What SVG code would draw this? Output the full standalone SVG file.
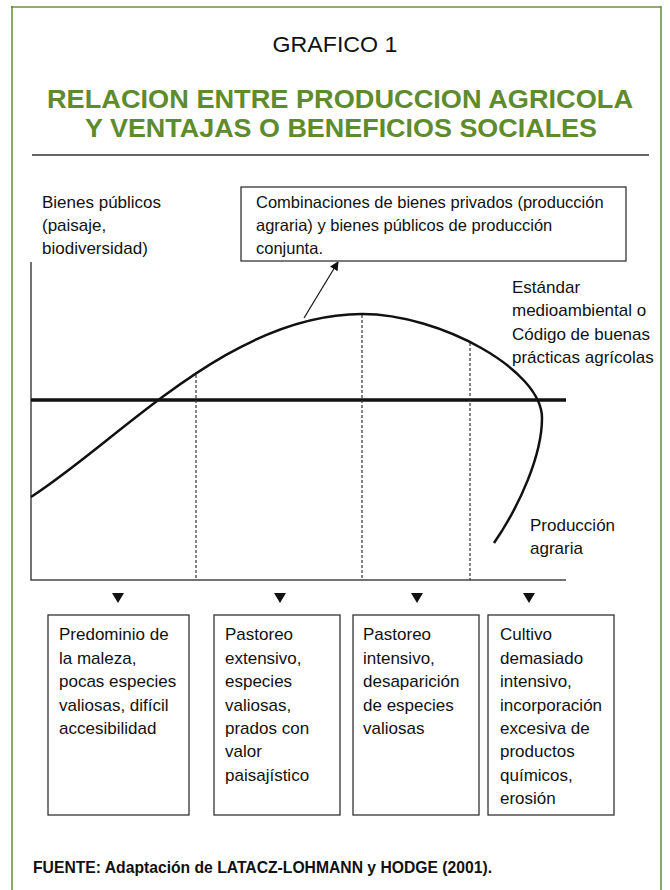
<svg xmlns="http://www.w3.org/2000/svg" width="670" height="890" viewBox="0 0 670 890">
<style>
.t{font-family:"Liberation Sans",Arial,sans-serif;font-size:17px;fill:#111}
.title{font-family:"Liberation Sans",Arial,sans-serif;font-size:26px;font-weight:bold;fill:#5f8b2f}
.box{fill:#fff;stroke:#333;stroke-width:1.3}
.dash{stroke:#333;stroke-width:1.2;stroke-dasharray:3,2;fill:none}
.tri{fill:#111}
</style>
<defs>
<marker id="ah" viewBox="0 0 10 10" refX="9" refY="5" markerWidth="9" markerHeight="9" markerUnits="userSpaceOnUse" orient="auto">
<path d="M0,0 L10,5 L0,10 z" fill="#111"/>
</marker>
</defs>
<rect width="670" height="890" fill="#fff"/>
<g id="frame">
<line x1="11" y1="7" x2="661" y2="7" stroke="#8fab72" stroke-width="2"/>
<line x1="12" y1="6" x2="12" y2="892" stroke="#5e8c30" stroke-width="1.5"/>
<line x1="661" y1="6" x2="661" y2="892" stroke="#5e8c30" stroke-width="1.5"/>
</g>
<g id="header">
<text x="335" y="52" text-anchor="middle" class="t" style="font-size:22px" textLength="125" lengthAdjust="spacingAndGlyphs">GRAFICO 1</text>
<text x="340" y="108" text-anchor="middle" class="title" textLength="586" lengthAdjust="spacingAndGlyphs">RELACION ENTRE PRODUCCION AGRICOLA</text>
<text x="341" y="137" text-anchor="middle" class="title" textLength="512" lengthAdjust="spacingAndGlyphs">Y VENTAJAS O BENEFICIOS SOCIALES</text>
<line x1="32" y1="155" x2="649" y2="155" stroke="#333" stroke-width="1.5"/>
</g>
<g id="axes">
<line x1="31" y1="262" x2="31" y2="580" stroke="#444" stroke-width="1.5"/>
<line x1="30.3" y1="580" x2="566" y2="580" stroke="#444" stroke-width="1.5"/>
<line x1="31" y1="400" x2="566" y2="400" stroke="#111" stroke-width="3.5"/>
</g>
<g id="connectors">
<line class="dash" x1="196" y1="375" x2="196" y2="580"/>
<line class="dash" x1="362" y1="315" x2="362" y2="580"/>
<line class="dash" x1="470" y1="343" x2="470" y2="580"/>
<path d="M31,497 C120,440 230,314 362,314 C440,314 542,370 542,418 C542,455 520,505 494,543" fill="none" stroke="#111" stroke-width="2.5"/>
<line x1="304" y1="318" x2="338" y2="262" stroke="#111" stroke-width="1.2" marker-end="url(#ah)"/>
<path class="tri" d="M112,593 L124,593 L118,603 z"/>
<path class="tri" d="M274,593 L286,593 L280,603 z"/>
<path class="tri" d="M411,593 L423,593 L417,603 z"/>
<path class="tri" d="M523,593 L535,593 L529,603 z"/>
</g>
<g id="ylabel">
<text class="t" x="42" y="208">Bienes públicos</text>
<text class="t" x="42" y="231">(paisaje,</text>
<text class="t" x="42" y="254">biodiversidad)</text>
</g>
<g id="note">
<rect class="box" x="241" y="187" width="385" height="74"/>
<text class="t" x="256" y="208" style="font-size:16.5px">Combinaciones de bienes privados (producción</text>
<text class="t" x="256" y="231" style="font-size:16.5px">agraria) y bienes públicos de producción</text>
<text class="t" x="256" y="254" style="font-size:16.5px">conjunta.</text>
</g>
<g id="standard">
<text class="t" x="512" y="293">Estándar</text>
<text class="t" x="512" y="316">medioambiental o</text>
<text class="t" x="512" y="340">Código de buenas</text>
<text class="t" x="512" y="363">prácticas agrícolas</text>
</g>
<g id="production">
<text class="t" x="530" y="531">Producción</text>
<text class="t" x="530" y="554">agraria</text>
</g>
<g id="box1">
<rect class="box" x="48" y="615" width="141" height="200"/>
<text class="t" x="59" y="640">Predominio de</text>
<text class="t" x="59" y="664">la maleza,</text>
<text class="t" x="59" y="687">pocas especies</text>
<text class="t" x="59" y="711">valiosas, difícil</text>
<text class="t" x="59" y="734">accesibilidad</text>
</g>
<g id="box2">
<rect class="box" x="214" y="615" width="126" height="200"/>
<text class="t" x="225" y="640">Pastoreo</text>
<text class="t" x="225" y="664">extensivo,</text>
<text class="t" x="225" y="687">especies</text>
<text class="t" x="225" y="711">valiosas,</text>
<text class="t" x="225" y="734">prados con</text>
<text class="t" x="225" y="757">valor</text>
<text class="t" x="225" y="781">paisajístico</text>
</g>
<g id="box3">
<rect class="box" x="353" y="615" width="126" height="200"/>
<text class="t" x="363" y="640">Pastoreo</text>
<text class="t" x="363" y="664">intensivo,</text>
<text class="t" x="363" y="687">desaparición</text>
<text class="t" x="363" y="711">de especies</text>
<text class="t" x="363" y="734">valiosas</text>
</g>
<g id="box4">
<rect class="box" x="488" y="615" width="126" height="200"/>
<text class="t" x="500" y="640">Cultivo</text>
<text class="t" x="500" y="664">demasiado</text>
<text class="t" x="500" y="687">intensivo,</text>
<text class="t" x="500" y="711">incorporación</text>
<text class="t" x="500" y="734">excesiva de</text>
<text class="t" x="500" y="757">productos</text>
<text class="t" x="500" y="781">químicos,</text>
<text class="t" x="500" y="804">erosión</text>
</g>
<g id="source">
<text class="t" x="33" y="873" style="font-size:15.7px;font-weight:bold">FUENTE: Adaptación de LATACZ-LOHMANN y HODGE (2001).</text>
</g>
</svg>
